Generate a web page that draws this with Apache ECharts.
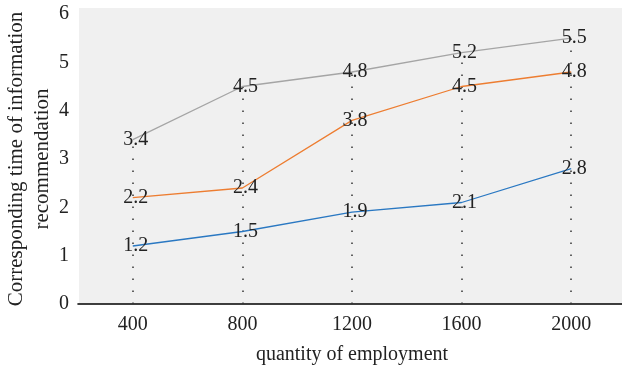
<!DOCTYPE html>
<html>
<head>
<meta charset="utf-8">
<script src="https://cdn.jsdelivr.net/npm/echarts@6/dist/echarts.min.js"></script>
<style>
  html, body { margin: 0; padding: 0; background: #ffffff; }
  #chart { width: 622px; height: 370px; }
</style>
</head>
<body>
<div id="chart"></div>
<script>
// Employment quantity on the x axis
const categories = ['400', '800', '1200', '1600', '2000'];
// Recommendation times for the three series
const seriesTop = [3.4, 4.5, 4.8, 5.2, 5.5];
const seriesMid = [2.2, 2.4, 3.8, 4.5, 4.8];
const seriesLow = [1.2, 1.5, 1.9, 2.1, 2.8];
const yTicks = [0, 1, 2, 3, 4, 5, 6];

const FONT = '"Liberation Serif", "DejaVu Serif", serif';
const TEXT = '#222222';
const SIZE = 20;

// Drop lines from the axis up to the highest point of each category
const dropLines = categories.map((c, i) => [
  { coord: [i, 0] },
  { coord: [i, Math.max(seriesTop[i], seriesMid[i], seriesLow[i])] }
]);

function lineSeries(name, data, color, extra) {
  return Object.assign({
    name: name,
    type: 'line',
    data: data,
    symbol: 'circle',
    symbolSize: 0,
    showSymbol: true,
    lineStyle: { color: color, width: 1.3 },
    itemStyle: { color: color },
    label: {
      show: true,
      position: 'inside',
      offset: [3, 0],
      color: TEXT,
      fontFamily: FONT,
      fontSize: SIZE
    },
    z: 3
  }, extra || {});
}

const chart = echarts.init(document.getElementById('chart'), null, { renderer: 'canvas' });
chart.setOption({
  animation: false,
  backgroundColor: '#ffffff',
  graphic: [{
    type: 'rect',
    shape: { x: 79, y: 8, width: 543, height: 296 },
    style: { fill: '#f0f0f0' },
    z: -10,
    silent: true
  }],
  grid: { left: 78, right: -4, top: 14, bottom: 66, containLabel: false, outerBoundsMode: 'none' },
  xAxis: {
    type: 'category',
    data: categories,
    boundaryGap: true,
    axisLine: { show: true, lineStyle: { color: '#000000', width: 1.6 } },
    axisTick: { show: false },
    axisLabel: { color: TEXT, fontFamily: FONT, fontSize: SIZE, margin: 11 },
    splitLine: { show: false },
    name: 'quantity of employment',
    nameLocation: 'middle',
    nameGap: 41,
    nameMoveOverlap: false,
    nameTextStyle: { color: TEXT, fontFamily: FONT, fontSize: SIZE }
  },
  yAxis: {
    type: 'value',
    min: yTicks[0],
    max: yTicks[yTicks.length - 1],
    interval: 1,
    axisLine: { show: false },
    axisTick: { show: false },
    splitLine: { show: false },
    axisLabel: { color: TEXT, fontFamily: FONT, fontSize: SIZE, margin: 9 },
    name: 'Corresponding time of information\nrecommendation',
    nameLocation: 'middle',
    nameRotate: 90,
    nameGap: 23,
    nameMoveOverlap: false,
    nameTextStyle: { color: TEXT, fontFamily: FONT, fontSize: 21, lineHeight: 26, align: 'center' }
  },
  series: [
    lineSeries('top', seriesTop, '#a5a5a5', {
      markLine: {
        silent: true,
        symbol: ['none', 'none'],
        label: { show: false },
        lineStyle: { color: '#333333', width: 1.5, type: [1.5, 10.5] },
        data: dropLines,
        z: 1
      }
    }),
    lineSeries('mid', seriesMid, '#ed7d31'),
    lineSeries('low', seriesLow, '#2a78c2')
  ]
});
</script>
</body>
</html>
